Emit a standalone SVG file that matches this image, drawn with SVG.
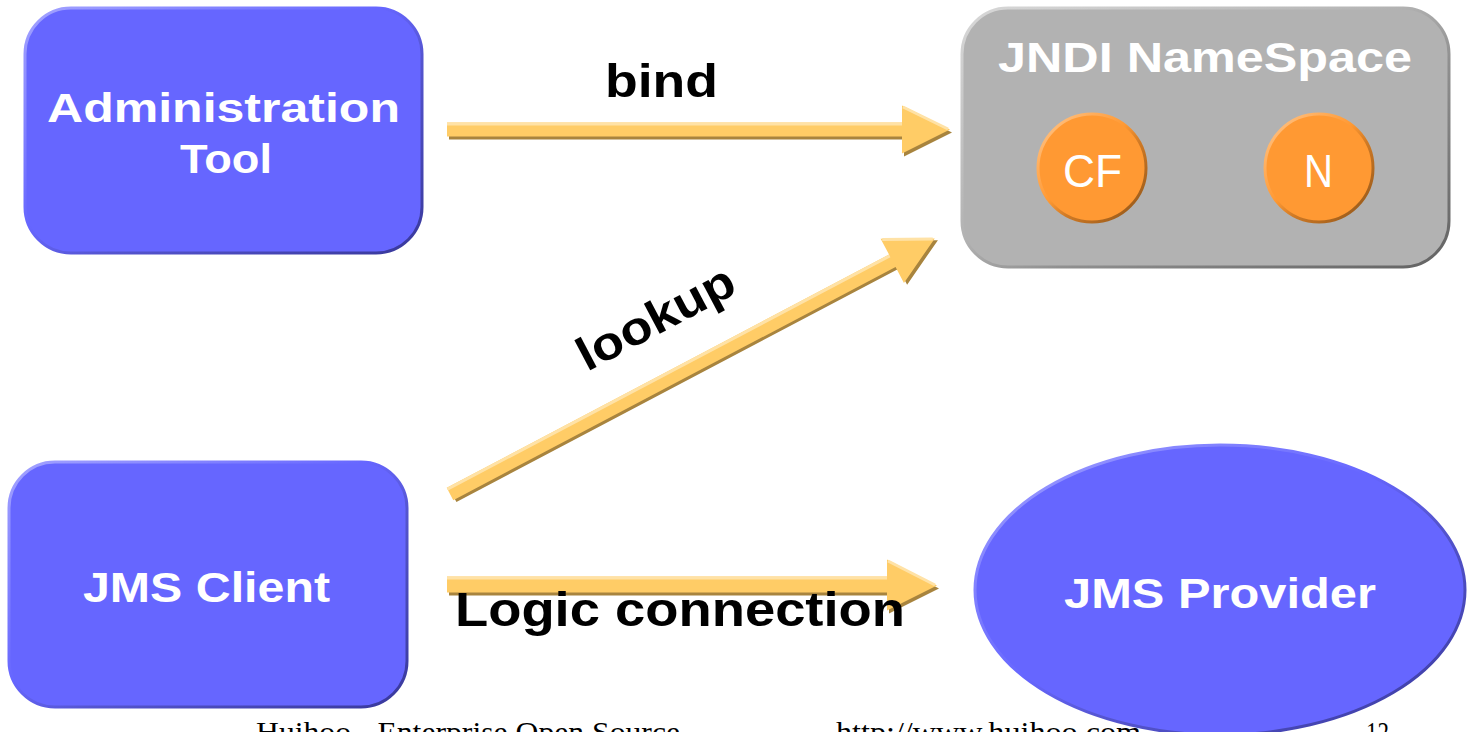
<svg xmlns="http://www.w3.org/2000/svg" width="1469" height="732" viewBox="0 0 1469 732">
  <defs>
    <!-- bevel-like edge: light on top-left, dark on bottom-right -->
    <linearGradient id="edgeBlue" x1="0" y1="0" x2="1" y2="1">
      <stop offset="0" stop-color="#A3A3FF"/>
      <stop offset="0.45" stop-color="#6666FF"/>
      <stop offset="0.6" stop-color="#5555D0"/>
      <stop offset="1" stop-color="#38389A"/>
    </linearGradient>
    <linearGradient id="edgeGrey" x1="0" y1="0" x2="1" y2="1">
      <stop offset="0" stop-color="#D8D8D8"/>
      <stop offset="0.45" stop-color="#B2B2B2"/>
      <stop offset="0.6" stop-color="#909090"/>
      <stop offset="1" stop-color="#626262"/>
    </linearGradient>
    <linearGradient id="edgeOrange" x1="0" y1="0" x2="1" y2="1">
      <stop offset="0" stop-color="#FFC890"/>
      <stop offset="0.45" stop-color="#FF9933"/>
      <stop offset="0.6" stop-color="#D07A25"/>
      <stop offset="1" stop-color="#8A5218"/>
    </linearGradient>
  </defs>
  <style>
    .box { fill: #6666FF; stroke: url(#edgeBlue); stroke-width: 3; }
    .ns { fill: #B2B2B2; stroke: url(#edgeGrey); stroke-width: 3; }
    .obj { fill: #FF9933; stroke: url(#edgeOrange); stroke-width: 3; }
    .title { font-family: "Liberation Sans", Arial, sans-serif; font-weight: bold; fill: #FFFFFF; text-anchor: middle; }
    .objText { font-family: "Liberation Sans", Arial, sans-serif; fill: #FFFFFF; text-anchor: middle; font-size: 46px; }
    .label { font-family: "Liberation Sans", Arial, sans-serif; font-weight: bold; fill: #000000; text-anchor: middle; }
    .footer { font-family: "Liberation Serif", "Times New Roman", serif; font-size: 30px; fill: #000000; }
    .arrowShadow { fill: #A8843E; }
    .arrowBody { fill: #FFCC66; }
    .arrowLight { fill: none; stroke: #FFE2A6; stroke-width: 3; }
  </style>

  <!-- page footer (sits behind the provider ellipse) -->
  <g id="footer">
    <text class="footer" x="256" y="742" textLength="424" lengthAdjust="spacingAndGlyphs">Huihoo - Enterprise Open Source</text>
    <text class="footer" x="836" y="742" textLength="305" lengthAdjust="spacingAndGlyphs">http://www.huihoo.com</text>
    <text class="footer" x="1366" y="742" font-size="28" textLength="23" lengthAdjust="spacingAndGlyphs">12</text>
  </g>

  <g id="admin-tool">
    <rect class="box" x="25" y="8" width="397" height="245" rx="46" ry="46"/>
    <text class="title" x="223.5" y="122" font-size="40" textLength="353" lengthAdjust="spacingAndGlyphs">Administration</text>
    <text class="title" x="226" y="173" font-size="40" textLength="92" lengthAdjust="spacingAndGlyphs">Tool</text>
  </g>

  <g id="jndi-namespace">
    <rect class="ns" x="962" y="8" width="487" height="259" rx="46" ry="46"/>
    <text class="title" x="1205" y="72" font-size="42" textLength="414" lengthAdjust="spacingAndGlyphs">JNDI NameSpace</text>
    <g id="cf">
      <circle class="obj" cx="1092" cy="168" r="54"/>
      <text class="objText" x="1092.5" y="187" textLength="59" lengthAdjust="spacingAndGlyphs">CF</text>
    </g>
    <g id="n">
      <circle class="obj" cx="1319" cy="168" r="54"/>
      <text class="objText" x="1318.5" y="187" textLength="29" lengthAdjust="spacingAndGlyphs">N</text>
    </g>
  </g>

  <g id="jms-client">
    <rect class="box" x="9" y="462" width="398" height="245" rx="46" ry="46"/>
    <text class="title" x="206.5" y="602" font-size="42" textLength="247" lengthAdjust="spacingAndGlyphs">JMS Client</text>
  </g>

  <g id="jms-provider">
    <ellipse class="box" cx="1220" cy="590" rx="245" ry="145"/>
    <text class="title" x="1220" y="608" font-size="42" textLength="312" lengthAdjust="spacingAndGlyphs">JMS Provider</text>
  </g>

  <g id="connectors">
    <!-- bind: admin tool -> namespace -->
    <g transform="translate(447,129.5)">
      <path class="arrowShadow" transform="translate(2,3)" d="M0,-7 H455 V-24 L503,0 L455,24 V7 H0 Z"/>
      <path class="arrowBody" d="M0,-7 H455 V-24 L503,0 L455,24 V7 H0 Z"/>
      <path class="arrowLight" d="M0,-5.5 H455 M456,-22.5 L501,-0.5"/>
    </g>
    <text class="label" x="661.5" y="97" font-size="46" textLength="113" lengthAdjust="spacingAndGlyphs">bind</text>

    <!-- lookup: client -> namespace -->
    <g transform="translate(450,494) rotate(-27.8)">
      <path class="arrowShadow" transform="translate(2,3)" d="M0,-7 H500 V-25 L548,0 L500,25 V7 H0 Z"/>
      <path class="arrowBody" d="M0,-7 H500 V-25 L548,0 L500,25 V7 H0 Z"/>
      <path class="arrowLight" d="M0,-5.5 H500 M501,-23.5 L546,-0.5"/>
    </g>
    <text class="label" x="663" y="332" font-size="47" textLength="172" lengthAdjust="spacingAndGlyphs" transform="rotate(-27.8 663 332)">lookup</text>

    <!-- logic connection: client -> provider -->
    <g transform="translate(447,584.5)">
      <path class="arrowShadow" transform="translate(2,3)" d="M0,-8 H440 V-25 L490,1 L440,26 V8 H0 Z"/>
      <path class="arrowBody" d="M0,-8 H440 V-25 L490,1 L440,26 V8 H0 Z"/>
      <path class="arrowLight" d="M0,-6.5 H440 M441,-23.5 L488,0.5"/>
    </g>
    <text class="label" x="680" y="626" font-size="48" textLength="450" lengthAdjust="spacingAndGlyphs">Logic connection</text>
  </g>
</svg>
